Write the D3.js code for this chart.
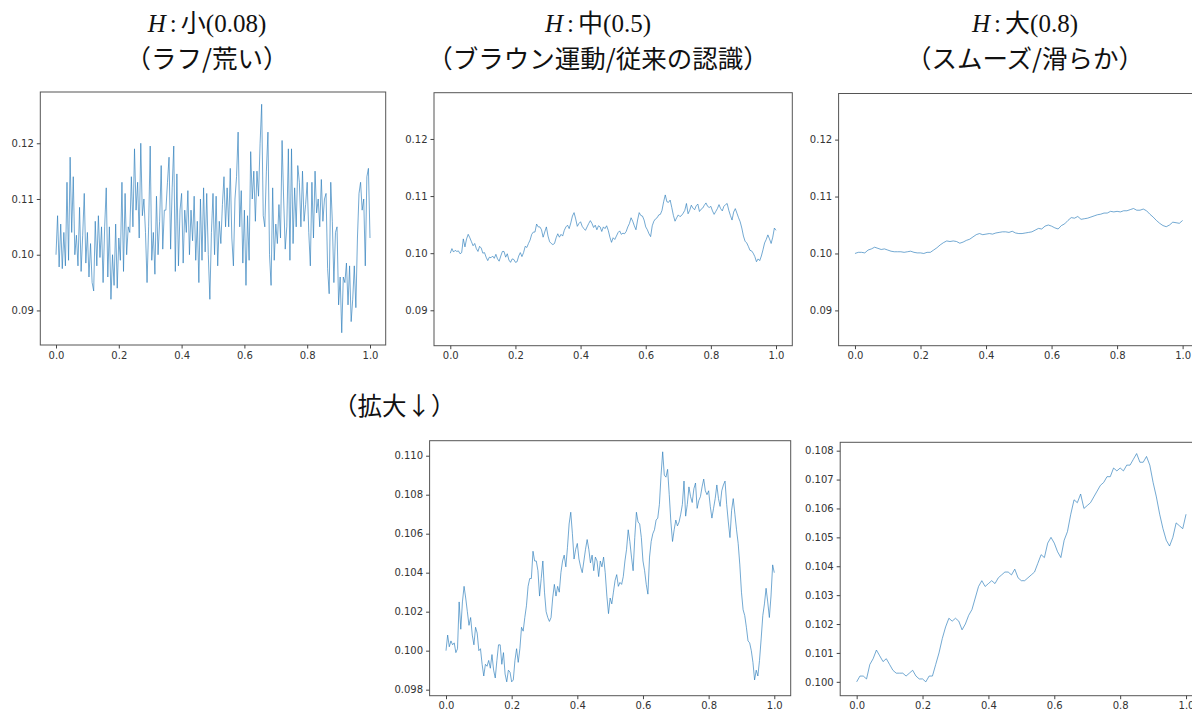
<!DOCTYPE html>
<html><head><meta charset="utf-8">
<script src="https://cdn.jsdelivr.net/npm/d3@7"></script>
<style>
html,body{margin:0;padding:0;background:#fff;}
svg{display:block;}
.tick text{font-family:"DejaVu Sans",sans-serif;font-size:10px;fill:#333;}
.tick line{stroke:#444;}
</style></head>
<body>
<script>
// ---- data ----
const xTicks = [0.0, 0.2, 0.4, 0.6, 0.8, 1.0];
const topYTicks = [0.09, 0.10, 0.11, 0.12];
const zoomMidYTicks = [0.098, 0.100, 0.102, 0.104, 0.106, 0.108, 0.110];
const zoomSmoothYTicks = [0.100, 0.101, 0.102, 0.103, 0.104, 0.105, 0.106, 0.107, 0.108];

const titles = [
  {h: "小", v: "(0.08)", sub: "（ラフ/荒い）"},
  {h: "中", v: "(0.5)", sub: "（ブラウン運動/従来の認識）"},
  {h: "大", v: "(0.8)", sub: "（スムーズ/滑らか）"}
];
const zoomLabel = "（拡大↓）";

// H = 0.08 (rough), t = 0 .. 1 step 0.005
const roughValues = [
0.1000,0.1070,0.0978,0.1055,0.0975,0.1040,0.0980,0.1130,0.0990,0.1175,
0.1040,0.1140,0.1000,0.1035,0.0980,0.1085,0.0970,0.1035,0.1110,0.0985,
0.1040,0.0960,0.1020,0.0950,0.0935,0.1060,0.0980,0.1070,0.0995,0.1050,
0.0950,0.1050,0.1120,0.0960,0.1050,0.0920,0.1000,0.0945,0.1055,0.0940,
0.1030,0.0990,0.1130,0.0970,0.1110,0.1000,0.1050,0.1040,0.1140,0.1050,
0.1190,0.1080,0.1130,0.1030,0.1200,0.1070,0.1100,0.1040,0.0950,0.1050,
0.1195,0.0990,0.1040,0.0965,0.1105,0.1000,0.1060,0.1160,0.1010,0.1080,
0.1080,0.1130,0.1175,0.1010,0.1120,0.1195,0.0970,0.1145,0.0980,0.1080,
0.1110,0.0985,0.1080,0.1040,0.1115,0.1000,0.1080,0.1025,0.1105,0.0990,
0.1060,0.0950,0.1100,0.0990,0.1120,0.1005,0.1110,0.1000,0.0920,0.1040,
0.1110,0.1000,0.1105,0.0980,0.1060,0.1020,0.1090,0.1140,0.1050,0.1120,
0.1050,0.1155,0.1030,0.0980,0.1100,0.1140,0.1220,0.1050,0.1115,0.0985,
0.1080,0.0945,0.1070,0.0990,0.1185,0.1100,0.1150,0.1060,0.1150,0.1105,
0.1200,0.1270,0.1070,0.1050,0.1150,0.1220,0.1000,0.0945,0.1120,0.0990,
0.1055,0.1020,0.1090,0.1030,0.1205,0.1100,0.1010,0.1050,0.1190,0.0990,
0.1190,0.1020,0.1120,0.1050,0.1160,0.1130,0.1050,0.1150,0.1060,0.1090,
0.1130,0.1040,0.0980,0.1130,0.1030,0.1150,0.1075,0.1100,0.1050,0.1135,
0.1060,0.1100,0.1110,0.0975,0.0930,0.1130,0.1060,0.0950,0.1040,0.1050,
0.0910,0.0960,0.0860,0.0960,0.0950,0.0985,0.0910,0.0980,0.0880,0.0920,
0.0980,0.0905,0.1030,0.1110,0.1130,0.1080,0.1100,0.0980,0.1140,0.1155,
0.1030
];

// H = 0.5 (Brownian), t = 0 .. 1 step 0.005
const midValues = [
0.1000,0.1008,0.1002,0.1005,0.1003,0.1004,0.0999,0.1001,0.1025,0.1011,
0.1025,0.1033,0.1027,0.1020,0.1013,0.1017,0.1008,0.1003,0.1012,0.1009,
0.1000,0.1001,0.0993,0.0987,0.0993,0.0992,0.0995,0.0991,0.0998,0.0990,
0.0986,0.0995,0.1003,0.1003,0.0993,0.0999,0.0988,0.0984,0.0990,0.0989,
0.0984,0.0985,0.0995,0.1001,0.0994,0.1001,0.1012,0.1010,0.1017,0.1023,
0.1033,0.1037,0.1037,0.1051,0.1046,0.1046,0.1041,0.1028,0.1037,0.1046,
0.1030,0.1020,0.1017,0.1015,0.1017,0.1027,0.1034,0.1028,0.1033,0.1030,
0.1040,0.1046,0.1049,0.1043,0.1053,0.1065,0.1071,0.1060,0.1047,0.1052,
0.1055,0.1047,0.1043,0.1040,0.1046,0.1052,0.1057,0.1052,0.1045,0.1049,
0.1041,0.1048,0.1046,0.1038,0.1046,0.1043,0.1048,0.1040,0.1028,
0.1019,0.1027,0.1024,0.1030,0.1036,0.1039,0.1033,0.1035,0.1034,0.1038,
0.1046,0.1052,0.1062,0.1056,0.1048,0.1041,0.1058,0.1071,0.1066,0.1065,
0.1058,0.1046,0.1041,0.1034,0.1029,0.1048,0.1056,0.1060,0.1062,0.1067,
0.1068,0.1075,0.1090,0.1102,0.1090,0.1089,0.1093,0.1080,0.1066,0.1056,
0.1062,0.1067,0.1064,0.1066,0.1070,0.1075,0.1087,0.1069,0.1075,0.1084,
0.1079,0.1076,0.1083,0.1086,0.1073,0.1077,0.1079,0.1084,0.1088,0.1082,
0.1080,0.1082,0.1074,0.1068,0.1073,0.1078,0.1085,0.1078,0.1074,0.1082,
0.1085,0.1087,0.1075,0.1066,0.1058,0.1072,0.1078,0.1070,0.1062,0.1055,
0.1044,0.1030,0.1021,0.1018,0.1012,0.1005,0.1004,0.1000,0.0994,0.0985,
0.0990,0.0987,0.0995,0.1006,0.1018,0.1024,0.1032,0.1025,0.1017,0.1028,
0.1044,0.1040
];

// H = 0.8 (smooth), t = 0 .. 1 step 0.01
const smoothValues = [
0.1000,0.1002,0.1002,0.1001,0.1006,0.1008,0.1011,0.1009,0.1007,0.1008,
0.1006,0.1004,0.1003,0.1003,0.1003,0.1002,0.1003,0.1004,0.1002,0.1001,
0.1001,0.1000,0.1002,0.1002,0.1006,0.1010,0.1015,0.1019,0.1022,0.1021,
0.1022,0.1021,0.1018,0.1020,0.1023,0.1025,0.1029,0.1033,0.1035,0.1033,
0.1034,0.1035,0.1034,0.1036,0.1037,0.1038,0.1038,0.1037,0.1039,0.1036,
0.1035,0.1035,0.1036,0.1037,0.1038,0.1041,0.1044,0.1043,0.1048,0.1050,
0.1048,0.1045,0.1043,0.1049,0.1052,0.1058,0.1063,0.1062,0.1065,0.1060,
0.1061,0.1062,0.1064,0.1066,0.1068,0.1069,0.1071,0.1071,0.1074,0.1073,
0.1074,0.1073,0.1075,0.1075,0.1077,0.1079,0.1076,0.1076,0.1078,0.1075,
0.1069,0.1064,0.1058,0.1053,0.1049,0.1047,0.1050,0.1055,0.1054,0.1053,
0.1058
];

// ---- layout ----
const W = 1192, H = 715;
const svg = d3.select("body").append("svg").attr("width", W).attr("height", H);

const panels = [
  {id:"p1", data: roughValues,  xr:[40.3, 385.7], yr:[345, 92],    yd:[0.0838, 0.1292], yt: topYTicks, fmt: ".2f"},
  {id:"p2", data: midValues,    xr:[434, 792.3],  yr:[345.7, 92.7], yd:[0.0838, 0.1281], yt: topYTicks, fmt: ".2f"},
  {id:"p3", data: smoothValues, xr:[838.6, 1199], yr:[345.7, 93.5], yd:[0.0838, 0.1281], yt: topYTicks, fmt: ".2f"},
  {id:"p4", data: midValues,    xr:[429.6, 790.7], yr:[695.7, 440.7], yd:[0.09769, 0.11077], yt: zoomMidYTicks, fmt: ".3f"},
  {id:"p5", data: smoothValues, xr:[840.2, 1202.5], yr:[695.7, 442.3], yd:[0.09952, 0.10829], yt: zoomSmoothYTicks, fmt: ".3f"}
];

const defs = svg.append("defs");

panels.forEach(p => {
  const x = d3.scaleLinear().domain([-0.05, 1.05]).range(p.xr);
  const y = d3.scaleLinear().domain(p.yd).range(p.yr);
  const n = p.data.length;
  const pts = p.data.map((v, i) => [i / (n - 1), v]);

  defs.append("clipPath").attr("id", "clip-" + p.id)
    .append("rect")
    .attr("x", p.xr[0]).attr("y", p.yr[1])
    .attr("width", p.xr[1] - p.xr[0]).attr("height", p.yr[0] - p.yr[1]);

  const g = svg.append("g");

  g.append("path")
    .datum(pts)
    .attr("clip-path", "url(#clip-" + p.id + ")")
    .attr("fill", "none")
    .attr("stroke", "#2f7fbd")
    .attr("stroke-opacity", 0.85)
    .attr("stroke-width", 0.8)
    .attr("stroke-linejoin", "round")
    .attr("d", d3.line().x(d => x(d[0])).y(d => y(d[1])));

  // frame
  g.append("rect")
    .attr("x", p.xr[0]).attr("y", p.yr[1])
    .attr("width", p.xr[1] - p.xr[0]).attr("height", p.yr[0] - p.yr[1])
    .attr("fill", "none").attr("stroke", "#555").attr("stroke-width", 1);

  const xa = g.append("g").attr("transform", `translate(0,${p.yr[0]})`)
    .call(d3.axisBottom(x).tickValues(xTicks).tickFormat(d3.format(".1f")).tickSize(3.5).tickPadding(3));
  xa.select(".domain").remove();

  const ya = g.append("g").attr("transform", `translate(${p.xr[0]},0)`)
    .call(d3.axisLeft(y).tickValues(p.yt).tickFormat(d3.format(p.fmt)).tickSize(3.5).tickPadding(3));
  ya.select(".domain").remove();
});

// ---- titles ----
const titleCenters = [207, 598, 1025];
titles.forEach((t, i) => {
  const l1 = svg.append("text")
    .attr("x", titleCenters[i]).attr("y", 32)
    .attr("text-anchor", "middle")
    .attr("font-size", 25).attr("fill", "#111");
  l1.append("tspan").attr("font-family", "'Liberation Serif', serif").attr("font-style", "italic").text("H");
  l1.append("tspan").attr("font-family", "'Liberation Serif', serif").attr("dx", 4).text(":");
  l1.append("tspan").attr("font-family", "'Noto Sans CJK JP', sans-serif").attr("dx", 4).text(t.h);
  l1.append("tspan").attr("font-family", "'Liberation Serif', serif").text(t.v);

  svg.append("text")
    .attr("x", titleCenters[i]).attr("y", 68)
    .attr("text-anchor", "middle")
    .attr("font-family", "'Noto Sans CJK JP', sans-serif")
    .attr("font-size", 25.5).attr("fill", "#111")
    .text(t.sub);
});

svg.append("text")
  .attr("x", 333).attr("y", 415)
  .attr("font-family", "'Noto Sans CJK JP', sans-serif")
  .attr("font-size", 24.5).attr("fill", "#111")
  .text(zoomLabel);
</script>
</body></html>
